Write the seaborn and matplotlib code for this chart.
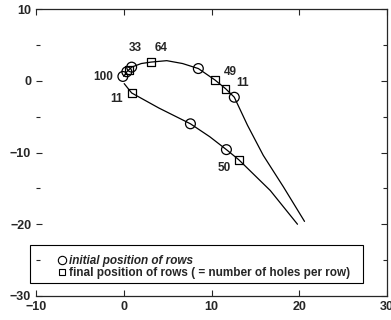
import pandas as pd
import matplotlib.pyplot as plt
import seaborn as sns
from matplotlib.lines import Line2D
from matplotlib.patches import Rectangle
from matplotlib.ticker import MultipleLocator

# paths of the two rows
upper_x = [0.0, 0.35, 0.9, 2.0, 3.1, 4.9, 6.7, 8.5, 10.4, 11.6, 12.6, 14.1, 15.9, 18.2, 20.6]
upper_y = [0.6, 1.25, 1.9, 2.4, 2.6, 2.8, 2.4, 1.7, 0.1, -1.1, -2.3, -6.2, -10.4, -14.8, -19.6]
lower_x = [0.05, 0.9, 4.0, 7.6, 9.8, 11.7, 13.1, 16.7, 19.8]
lower_y = [-0.4, -1.7, -3.8, -6.0, -7.8, -9.6, -11.0, -15.3, -20.0]

# initial positions (circles)
init_x = [-0.1, 0.35, 0.9, 8.5, 12.6, 7.6, 11.7]
init_y = [0.6, 1.25, 1.9, 1.7, -2.3, -6.0, -9.6]

# final positions (squares) and holes per row
final_x = [0.6, 3.1, 10.4, 11.6, 0.9, 13.1]
final_y = [1.55, 2.6, 0.1, -1.1, -1.7, -11.0]

# row labels
label_text = ['100', '33', '64', '49', '11', '11', '50']
label_x = [-2.3, 1.3, 4.3, 12.2, 13.5, -0.8, 11.5]
label_y = [0.5, 4.5, 4.5, 1.2, -0.3, -2.6, -12.2]

sns.set_style('ticks')
plt.rcParams['font.family'] = ['Liberation Sans', 'DejaVu Sans']
plt.rcParams['font.weight'] = 'bold'

fig = plt.figure(figsize=(3.91, 3.2), dpi=100)
ax = fig.add_axes([36 / 391, 24 / 320, 351 / 391, 287 / 320])

up = pd.DataFrame({'x': upper_x, 'y': upper_y})
lo = pd.DataFrame({'x': lower_x, 'y': lower_y})
sns.lineplot(data=up, x='x', y='y', sort=False, color='black', lw=0.9, ax=ax)
sns.lineplot(data=lo, x='x', y='y', sort=False, color='black', lw=0.9, ax=ax)

sns.scatterplot(x=init_x, y=init_y, marker='o', s=50, facecolor='none',
                edgecolor='black', linewidth=0.9, ax=ax, zorder=3)
sns.scatterplot(x=final_x, y=final_y, marker='s', s=32, facecolor='none',
                edgecolor='black', linewidth=0.9, ax=ax, zorder=3)

for t, x, y in zip(label_text, label_x, label_y):
    ax.text(x, y, t, fontsize=8.5, fontweight='bold', ha='center', va='center')

ax.set_xlim(-10, 30)
ax.set_ylim(-30, 10)
ax.xaxis.set_major_locator(MultipleLocator(10))
ax.yaxis.set_major_locator(MultipleLocator(10))
ax.yaxis.set_minor_locator(MultipleLocator(5))
ax.set_xlabel('')
ax.set_ylabel('')
ax.tick_params(which='both', direction='in', top=True, right=True,
               labelsize=9, length=4, width=0.8)
ax.tick_params(which='minor', length=3)
ax.spines['left'].set_visible(False)
for s in ['top', 'right', 'bottom']:
    ax.spines[s].set_linewidth(0.9)

# legend box
ax.add_patch(Rectangle((-0.017, 0.045), 0.949, 0.133, transform=ax.transAxes,
                       fill=False, edgecolor='black', lw=0.8, clip_on=False, zorder=4))
handles = [
    Line2D([], [], ls='none', marker='o', ms=6, mfc='none', mec='black', mew=0.8),
    Line2D([], [], ls='none', marker='s', ms=5, mfc='none', mec='black', mew=0.8),
]
leg = ax.legend(handles, ['initial position of rows',
                          'final position of rows ( = number of holes per row)'],
                loc='center left', bbox_to_anchor=(0.063, 0.101), frameon=False,
                fontsize=8.5, handlelength=0.6, handletextpad=0.3,
                labelspacing=0.0, borderpad=0, borderaxespad=0)
leg.get_texts()[0].set_style('italic')

fig.savefig('out.png', dpi=100)
